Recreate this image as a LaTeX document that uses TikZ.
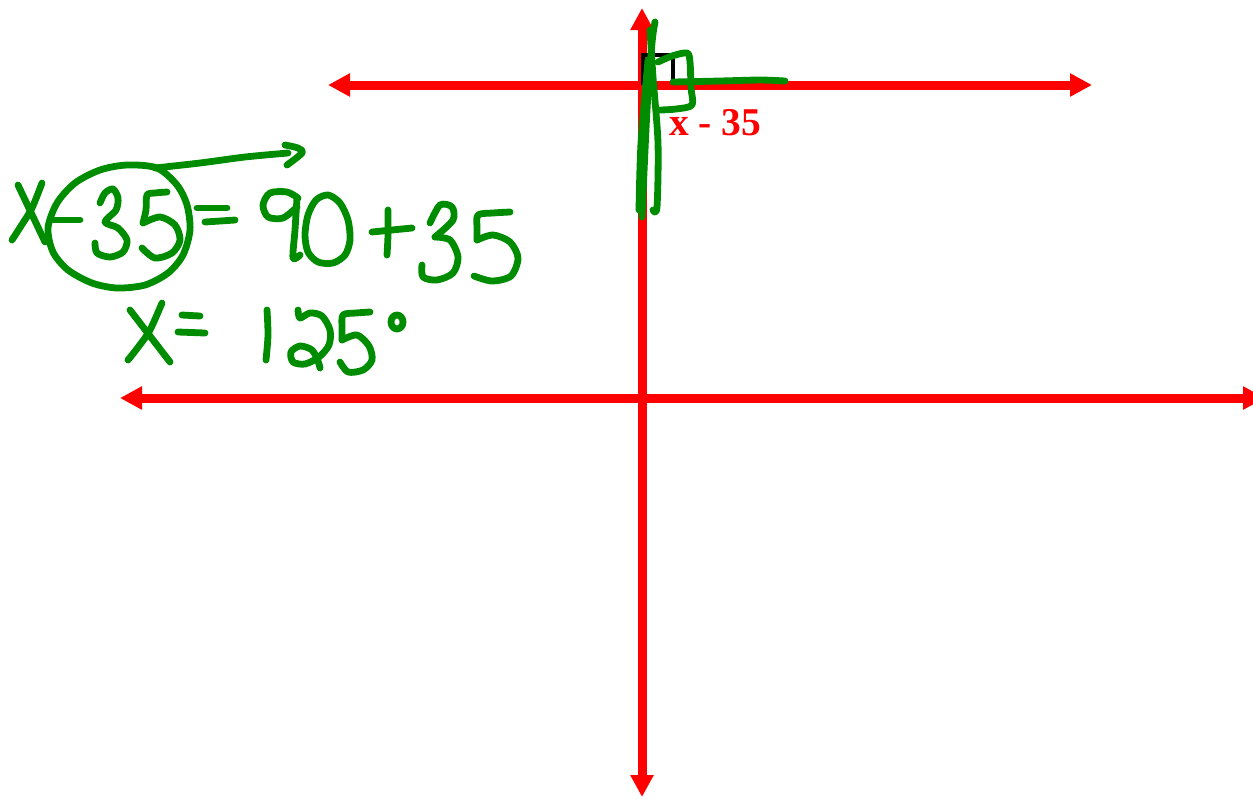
\documentclass[tikz,border=0pt]{standalone}
\usepackage{fontspec}
\setmainfont{Liberation Serif}
\usetikzlibrary{arrows.meta}
\definecolor{pen}{RGB}{0,140,0}
\definecolor{axisred}{RGB}{255,0,0}
\tikzset{
  axisboth/.style={draw=axisred, line width=0.225cm, {Triangle[length=0.55cm,width=0.55cm]}-{Triangle[length=0.55cm,width=0.55cm]}},
  ink/.style={draw=pen, line width=0.17cm, line cap=round, line join=round},
  rightmark/.style={draw=black, line width=0.1cm},
  lbl/.style={text=axisred, font=\bfseries\fontsize{28}{32}\selectfont, inner sep=0pt}
}
\begin{document}
\begin{tikzpicture}[x=0.025cm,y=-0.025cm]
\useasboundingbox (0,0) rectangle (1253,798);
\clip (0,0) rectangle (1253,798);
% axes
\coordinate (tl) at (328,85);
\coordinate (tr) at (1092,85);
\coordinate (bl) at (120,398);
\coordinate (br) at (1265,398);
\coordinate (vt) at (642,8);
\coordinate (vb) at (642,797);
\draw[axisboth] (tl) -- (tr);
\draw[axisboth] (bl) -- (br);
\draw[axisboth] (vb) -- (vt);
% right angle mark
\draw[rightmark] (643,85) -- (643,55) -- (673,55) -- (673,85);
% label
\node[lbl, anchor=base west] (xlab) at (669,135) {x - 35};
% green marks near intersection
\draw[ink] plot[smooth] coordinates {(655,22) (652,43) (647,110) (642,217)};
\draw[ink] plot[smooth] coordinates {(650,30) (653,77) (658,143) (657,207) (653,210)};
\draw[ink] plot[smooth] coordinates {(648,60) (641,143) (639,210)};
\draw[ink] plot[smooth] coordinates {(658,62) (672,56) (687,53) (690,62) (691,88) (692,105) (676,109) (660,110)};
\draw[ink] plot[smooth] coordinates {(673,82) (720,81) (760,80) (785,81)};
% first line: X-35 = 90+35
\draw[ink] (18,185) -- (45,242);
\draw[ink] plot[smooth] coordinates {(42,183) (32,208) (21,226) (12,240)};
\draw[ink] plot[smooth cycle] coordinates {(157,168) (127,165) (100,170) (75,183) (57,203) (48,228) (53,252) (68,270) (92,283) (117,288) (145,285) (168,273) (183,255) (190,230) (187,205) (177,185)};
\draw[ink] plot[smooth] coordinates {(155,168) (200,163) (245,157) (288,153)};
\draw[ink] plot[smooth] coordinates {(285,145) (298,148) (302,153) (287,165)};
\draw[ink] (53,220) -- (80,220);
\draw[ink] plot[smooth] coordinates {(100,203) (105,193) (113,189) (118,198) (116,210) (105,222) (118,228) (127,240) (123,252) (110,257) (97,253) (95,243)};
\draw[ink] plot[smooth] coordinates {(167,192) (155,193) (147,195) (146,210) (143,223)};
\draw[ink] plot[smooth] coordinates {(143,223) (160,217) (175,225) (180,240) (172,253) (155,258) (142,248)};
\draw[ink] (197,208) -- (227,208);
\draw[ink] (205,222) -- (235,220);
\draw[ink] plot[smooth] coordinates {(298,198) (287,192) (270,193) (263,205) (268,217) (283,218) (297,207)};
\draw[ink] plot[smooth] coordinates {(297,198) (295,230) (293,258) (300,255)};
\draw[ink] plot[smooth cycle] coordinates {(328,195) (340,203) (348,220) (350,240) (345,255) (333,263) (318,262) (308,252) (305,235) (308,215) (316,200)};
\draw[ink] (372,232) -- (412,228);
\draw[ink] plot[smooth] coordinates {(388,210) (388,235) (387,255)};
\draw[ink] plot[smooth] coordinates {(430,223) (440,205) (452,207) (453,220) (435,237)};
\draw[ink] plot[smooth] coordinates {(435,237) (450,240) (458,257) (453,273) (437,280) (423,277) (422,265)};
\draw[ink] plot[smooth] coordinates {(510,212) (493,213) (478,215) (477,228) (477,240)};
\draw[ink] plot[smooth] coordinates {(477,240) (493,235) (510,242) (518,258) (511,276) (492,281) (474,276)};
% second line: X = 125°
\draw[ink] (130,310) -- (170,362);
\draw[ink] plot[smooth] coordinates {(162,303) (150,330) (139,346) (128,360)};
\draw[ink] (182,315) -- (200,316);
\draw[ink] (178,332) -- (205,333);
\draw[ink] plot[smooth] coordinates {(267,310) (268,335) (266,360)};
\draw[ink] plot[smooth] coordinates {(298,310) (300,318) (310,313) (322,316) (330,330) (329,345) (319,357) (305,364) (293,362) (291,352) (300,346) (312,350) (318,361) (320,368)};
\draw[ink] plot[smooth] coordinates {(370,312) (356,313) (343,315) (342,328) (342,340)};
\draw[ink] plot[smooth] coordinates {(342,340) (357,335) (369,346) (372,360) (363,370) (348,372) (340,362)};
\draw[ink] (397,322) circle[x radius=6, y radius=7];
\end{tikzpicture}
\end{document}
